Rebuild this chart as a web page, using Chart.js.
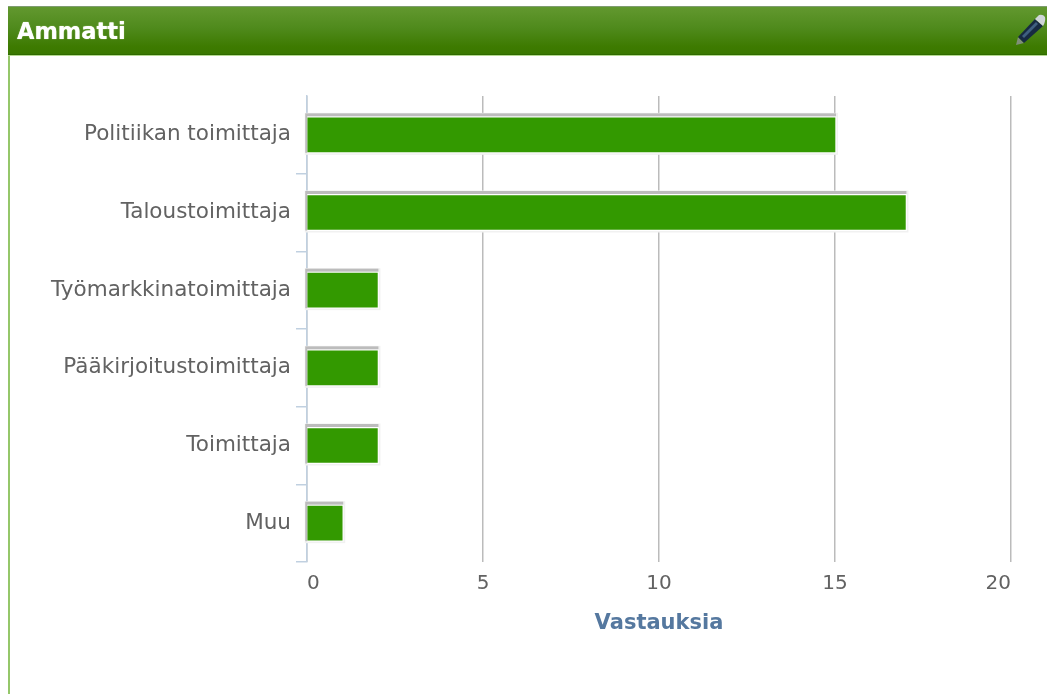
<!DOCTYPE html>
<html lang="fi">
<head>
<meta charset="utf-8">
<title>Ammatti</title>
<script src="https://cdn.jsdelivr.net/npm/chart.js@4"></script>
<style>
html,body{margin:0;padding:0;background:#fff;width:1047px;height:694px;overflow:hidden}
#page{position:relative;width:1047px;height:694px;filter:blur(.5px)}
#panel{position:absolute;left:8px;top:6px;right:0;bottom:0;border-left:2px solid #95c76a}
#head{position:absolute;left:8px;top:6px;right:0;height:49px;box-sizing:border-box;
 background:linear-gradient(#62982f 0%,#4f8a1c 45%,#3d7a00 85%,#3a7800 100%);
 border-top:1px solid #7f9c70;border-bottom:1px solid #2f6a00;box-shadow:0 1px 0 #b4d98f}
#head h1{margin:0;position:absolute;left:9px;top:10px;font:bold 22.5px/28px "DejaVu Sans",sans-serif;color:#fff;text-shadow:0 0 1px #e9f5c8}
#pen{position:absolute;left:1015px;top:14px}
#c{position:absolute;left:0;top:0}
</style>
</head>
<body>
<div id="page">
 <div id="panel"></div>
 <div id="head"><h1>Ammatti</h1></div>
 <svg id="pen" width="32" height="32" viewBox="0 0 32 32">
  <path d="M1 31 L3 23 L9 29 Z" fill="#7f8f78"/>
  <path d="M3 23 L20 5 L28 12 L9 29 Z" fill="#172a42"/>
  <path d="M7 22 L21 8 L23 10 L9 24 Z" fill="#3f5f80"/>
  <path d="M20 5 L24 1 Q28 0 30 3 Q31 7 28 12 Z" fill="#cfd5d8"/>
 </svg>
 <canvas id="c" width="1047" height="694"></canvas>
</div>
<script>
const categories = ["Politiikan toimittaja","Taloustoimittaja","Työmarkkinatoimittaja","Pääkirjoitustoimittaja","Toimittaja","Muu"];
const values = [15,17,2,2,2,1];
const xTicks = [0,5,10,15,20];
const xTitle = "Vastauksia";

const barHalo = {
  id:"barHalo",
  beforeDatasetsDraw(chart){
    const ctx = chart.ctx;
    ctx.save();
    chart.getDatasetMeta(0).data.forEach(b=>{
      const top = b.y - b.height/2, bot = b.y + b.height/2, l = b.base, r = b.x;
      ctx.fillStyle = "#f1f1f1"; ctx.fillRect(l-3, top-5, r-l+6, bot-top+8);
      ctx.fillStyle = "#bcbcbc"; ctx.fillRect(l-2.5, top-4.5, r-l+3.5, bot-top+5.5);
      ctx.fillStyle = "#ffffff"; ctx.fillRect(l-.5, top-1.5, r-l+2, bot-top+3);
    });
    ctx.restore();
  }
};

new Chart(document.getElementById("c"),{
  type:"bar",
  data:{labels:categories,datasets:[{data:values,backgroundColor:"#339900",borderWidth:0,barThickness:34}]},
  plugins:[barHalo],
  options:{
    indexAxis:"y",responsive:false,animation:false,
    layout:{padding:{left:0,right:36,top:96,bottom:54}},
    plugins:{legend:{display:false},tooltip:{enabled:false}},
    scales:{
      x:{
        min:0,max:20,
        afterBuildTicks(a){a.ticks=xTicks.map(v=>({value:v}));},
        afterFit(a){a.height=78;},
        grid:{color:"#bbbbbb",lineWidth:1.5,drawTicks:false},
        border:{display:false},
        ticks:{align:"inner",padding:10,maxRotation:0,color:"#626262",font:{family:"DejaVu Sans",size:20}},
        title:{display:true,text:xTitle,color:"#55789f",padding:{top:14},font:{family:"DejaVu Sans",size:21,weight:"bold"}}
      },
      y:{
        afterFit(a){a.width=307;},
        grid:{drawOnChartArea:false,color:c=>c.index===0?"rgba(0,0,0,0)":"#c0d0e0",tickLength:11,lineWidth:1.5},
        border:{display:true,color:"#c0d0e0",width:1.5},
        ticks:{padding:5,color:"#626262",font:{family:"DejaVu Sans",size:21.5}}
      }
    }
  }
});
</script>
</body>
</html>
